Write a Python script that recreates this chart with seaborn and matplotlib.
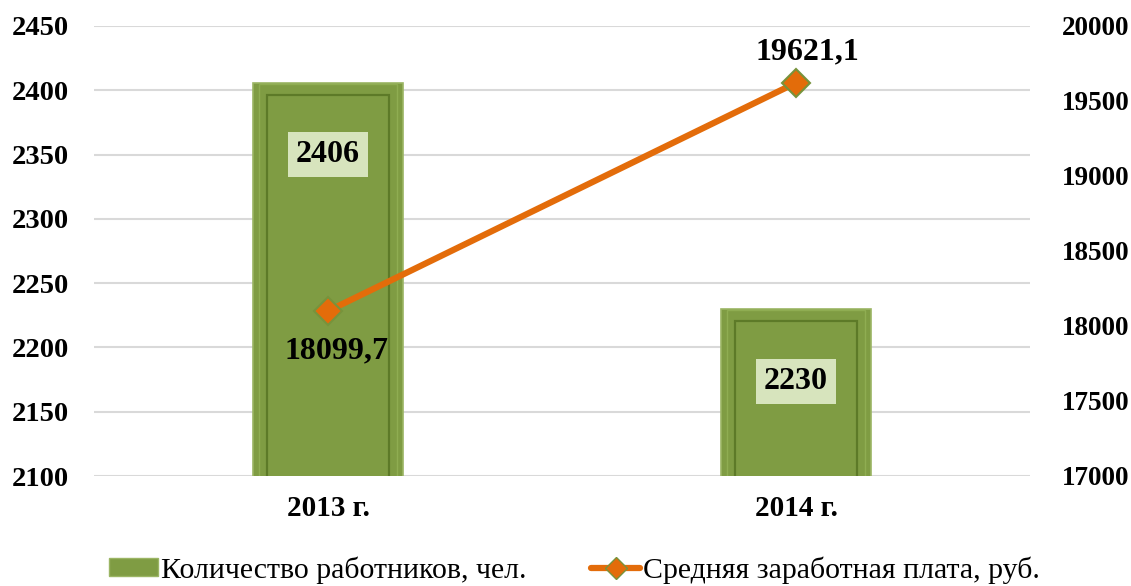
import matplotlib
matplotlib.use('Agg')
import matplotlib.pyplot as plt
from matplotlib.patches import Rectangle
from matplotlib.lines import Line2D
import pandas as pd
import seaborn as sns

# Data
years = ['2013 г.', '2014 г.']
workers = [2406, 2230]
salary = [18099.7, 19621.1]
salary_labels = ['18099,7', '19621,1']

bar_color = '#7f9c43'
line_color = '#e36c0a'

sns.set_style('white')
plt.rcParams['font.family'] = ['Liberation Serif', 'DejaVu Serif']
plt.rcParams['text.color'] = 'black'
plt.rcParams['xtick.color'] = 'black'
plt.rcParams['ytick.color'] = 'black'

fig = plt.figure(figsize=(11.31, 5.86), dpi=100)
ax = fig.add_axes([94 / 1131, 1 - 476 / 586, 936 / 1131, 450 / 586])

df = pd.DataFrame({'year': years, 'workers': workers, 'salary': salary})

# Bars - number of workers
sns.barplot(data=df, x='year', y='workers', color=bar_color, width=0.32,
            saturation=1, edgecolor='#9bb564', linewidth=1.2, ax=ax, zorder=2)
ax.set_ylim(2100, 2450)
ax.set_yticks(range(2100, 2451, 50))
ax.yaxis.grid(True, color='#d9d9d9', linewidth=1.5, zorder=0)
ax.set_axisbelow(True)

# fake bevel: inset outline inside every bar
for p in ax.patches:
    x0, y0 = p.get_x(), p.get_y()
    w, h = p.get_width(), p.get_height()
    dx = w * 0.09
    dy = 9.5
    ax.add_patch(Rectangle((x0 + dx, y0 + 8), w - 2 * dx, h - dy - 8,
                           facecolor='none', edgecolor='#5d7a28', linewidth=1.6, zorder=3))
    ax.add_patch(Rectangle((x0 + dx * 0.4, y0 + 3), w - 0.8 * dx, h - 4,
                           facecolor='none', edgecolor='#8fad52', linewidth=1.0, zorder=3))

for i, v in enumerate(workers):
    ax.annotate(str(v), (i, v), xytext=(0, -52), textcoords='offset points',
                ha='center', va='center', fontsize=23, fontweight='bold', zorder=6,
                bbox=dict(boxstyle='square,pad=0.25', facecolor='#d7e4bd', edgecolor='none'))

# Line - average salary
ax2 = ax.twinx()
sns.lineplot(x=[0, 1], y=salary, color=line_color, linewidth=4.5, marker='D',
             markersize=14, markerfacecolor=line_color, markeredgecolor='#77933c',
             markeredgewidth=1.5, ax=ax2, zorder=5)
ax2.set_ylim(17000, 20000)
ax2.set_yticks(range(17000, 20001, 500))
ax2.set_xlim(-0.5, 1.5)

ax2.annotate(salary_labels[0], (0, salary[0]), xytext=(6, -29), textcoords='offset points',
             ha='center', va='center', fontsize=23, fontweight='bold')
ax2.annotate(salary_labels[1], (1, salary[1]), xytext=(8, 22), textcoords='offset points',
             ha='center', va='center', fontsize=23, fontweight='bold')

for a in (ax, ax2):
    for s in a.spines.values():
        s.set_visible(False)
    a.tick_params(length=0)
    for lbl in a.get_yticklabels():
        lbl.set_fontweight('bold')
ax.tick_params(axis='y', pad=18, labelsize=20.5)
ax2.tick_params(axis='y', pad=23, labelsize=19.5)
ax.tick_params(axis='x', pad=14, labelsize=21)
for lbl in ax.get_xticklabels():
    lbl.set_fontweight('bold')
ax.set_xlabel('')
ax.set_ylabel('')
ax2.set_ylabel('')

handles = [Rectangle((0, 0), 1, 1, facecolor=bar_color, edgecolor='#9bb564'),
           Line2D([0], [0], color=line_color, linewidth=4.5, marker='D', markersize=11,
                  markerfacecolor=line_color, markeredgecolor='#77933c')]
fig.legend(handles, ['Количество работников, чел.', 'Средняя заработная плата, руб.'],
           loc='center', bbox_to_anchor=(0.508, 0.027), ncol=2, frameon=False,
           fontsize=21.5, handlelength=1.65, handleheight=0.55, handletextpad=0.1,
           columnspacing=2.15)

fig.savefig('out.png', dpi=100)
